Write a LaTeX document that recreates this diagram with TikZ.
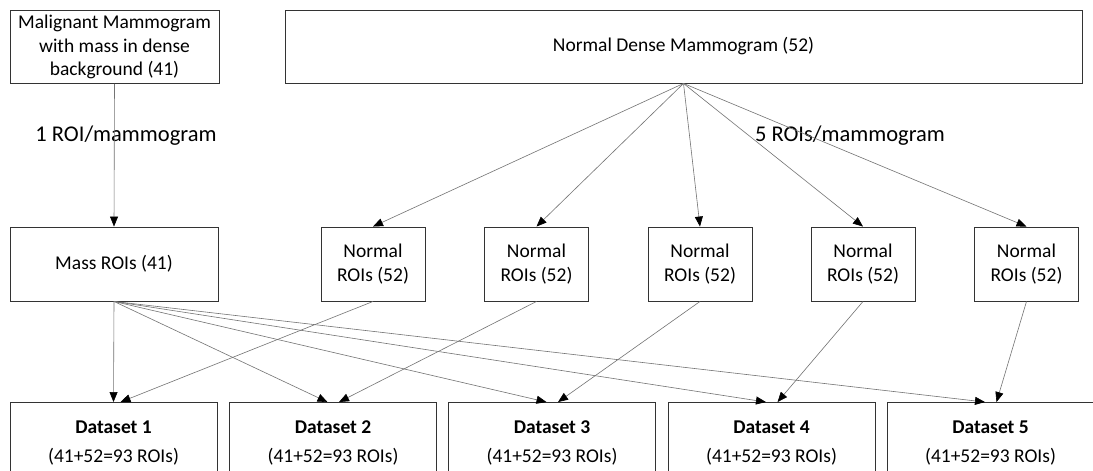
\documentclass[tikz,border=0pt]{standalone}
\usepackage{fontspec}
\setmainfont{Carlito}
\usetikzlibrary{arrows.meta,calc}
\begin{document}
\begin{tikzpicture}[x=1pt,y=-1pt,
  box/.style={draw=black!80, line width=0.9pt, inner sep=0pt, align=center, font=\fontsize{19.5}{23.5}\selectfont},
  nbox/.style={box, minimum width=104pt, minimum height=74pt},
  dbox/.style={box, minimum width=207pt, minimum height=81pt},
  conn/.style={draw=black!55, line width=0.6pt, -{Triangle[length=10pt,width=8pt,color=black]}},
  lbl/.style={font=\fontsize{22.5}{27}\selectfont, inner sep=0pt}]
\useasboundingbox (0,0) rectangle (1093,471);
\fill[white] (0,0) rectangle (1093,471);
% top row
\node[box, minimum width=209pt, minimum height=73pt] (mal) at (114.5,47) {Malignant Mammogram\\with mass in dense\\background (41)};
\node[box, minimum width=797pt, minimum height=73pt] (nd) at (683.5,46.5) {Normal Dense Mammogram (52)};
% middle row
\node[box, minimum width=208pt, minimum height=74pt] (mass) at (114,264) {Mass ROIs (41)};
\node[nbox] (n1) at (373,264) {Normal\\ROIs (52)};
\node[nbox] (n2) at (536.5,264) {Normal\\ROIs (52)};
\node[nbox] (n3) at (700,264) {Normal\\ROIs (52)};
\node[nbox] (n4) at (863,264) {Normal\\ROIs (52)};
\node[nbox] (n5) at (1026.5,264) {Normal\\ROIs (52)};
% bottom row
\node[dbox] (d1) at (113.5,443) {\textbf{Dataset 1}\\[5pt](41+52=93 ROIs)};
\node[dbox] (d2) at (333,443) {\textbf{Dataset 2}\\[5pt](41+52=93 ROIs)};
\node[dbox] (d3) at (552,443) {\textbf{Dataset 3}\\[5pt](41+52=93 ROIs)};
\node[dbox] (d4) at (771.5,443) {\textbf{Dataset 4}\\[5pt](41+52=93 ROIs)};
\node[dbox] (d5) at (990.5,443) {\textbf{Dataset 5}\\[5pt](41+52=93 ROIs)};
% labels
\node[lbl] (l1) at (126,136) {1 ROI/mammogram};
\node[lbl] (l2) at (850,136) {5 ROIs/mammogram};
% connectors
\draw[conn] (mal.south) -- (mass.north);
\foreach \i in {1,...,5} {\draw[conn] (nd.south) -- (n\i.north);}
\draw[conn] (mass.south) -- (d1.north);
\draw[conn] (n1.south) -- ($(d1.north)+(7,0)$);
\foreach \i in {2,...,5} {
  \draw[conn] (mass.south) -- ($(d\i.north)+(-5.5,0)$);
  \draw[conn] (n\i.south) -- ($(d\i.north)+(6,0)$);
}
\end{tikzpicture}
\end{document}
